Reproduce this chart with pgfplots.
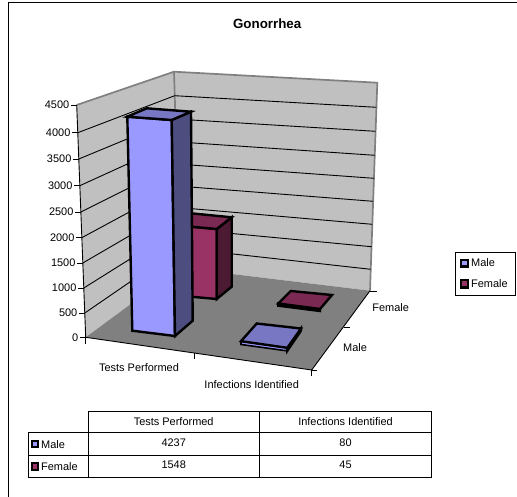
\documentclass[border=0pt]{standalone}
\usepackage{fontspec}
\setmainfont{Liberation Sans}
\usepackage{pgfplots}
\pgfplotsset{compat=1.18}
\definecolor{wall}{HTML}{C0C0C0}
\definecolor{floorgray}{HTML}{808080}
\definecolor{malefront}{HTML}{9999FF}
\definecolor{maletop}{HTML}{7777C4}
\definecolor{maleside}{HTML}{4D4D80}
\definecolor{femfront}{HTML}{993366}
\definecolor{femtop}{HTML}{7A2952}
\definecolor{femside}{HTML}{4D1A33}
\newcommand{\lab}{\fontsize{11}{12}\selectfont}
\begin{document}
\begin{tikzpicture}
\begin{axis}[
  scale only axis, width=517bp, height=497bp,
  xmin=0, xmax=517, ymin=0, ymax=497, y dir=reverse,
  hide axis, clip=false,
  every axis plot/.append style={no markers},
  grid line/.style={black, line width=0.9bp},
  frame line/.style={floorgray, line width=1.7bp},
  bar edge/.style={draw=black, line width=2.4bp, line join=miter},
  table line/.style={black, line width=0.9bp},
]
% outer frame
\addplot[black, line width=1bp] coordinates {(517,2.5) (8,2.5) (8,497)};
% walls and floor
\addplot[fill=wall, draw=none] coordinates {(76.7,105) (174,71.7) (180,267.7) (85.7,337.3)} -- cycle;
\addplot[fill=wall, draw=none] coordinates {(174,71.7) (377.3,82.7) (370,290.7) (180,267.7)} -- cycle;
\addplot[fill=floorgray, draw=none] coordinates {(85.7,337.3) (180,267.7) (370,290.7) (311.7,370)} -- cycle;
\addplot[frame line] coordinates {(76.7,105) (174,71.7) (377.3,82.7) (370,290.7)};
\addplot[frame line] coordinates {(174,71.7) (180,267.7)};
% gridlines, 4000 down to 500
\addplot[grid line] coordinates {(77.8,132.7) (174.7,95.7) (376.4,107.3)};
\addplot[grid line] coordinates {(78.8,159) (175.4,119) (375.6,131.3)};
\addplot[grid line] coordinates {(79.8,185.7) (176.1,141.8) (374.8,155.3)};
\addplot[grid line] coordinates {(80.9,212) (176.8,164) (374,178.3)};
\addplot[grid line] coordinates {(81.8,237.7) (177.5,186) (373.1,201.3)};
\addplot[grid line] coordinates {(82.8,263) (178.1,207.5) (372.3,224.3)};
\addplot[grid line] coordinates {(83.8,288) (178.8,228.5) (371.5,246.7)};
\addplot[grid line] coordinates {(84.8,313) (179.4,248) (370.7,269.3)};
% axes and ticks
\addplot[grid line] coordinates {(76.7,105) (85.7,337.3) (311.7,370) (370,290.7)};
\addplot[grid line] coordinates {(71,105) (76.7,105)};
\addplot[grid line] coordinates {(72,132.7) (77.8,132.7)};
\addplot[grid line] coordinates {(73,159) (78.8,159)};
\addplot[grid line] coordinates {(74,185.7) (79.8,185.7)};
\addplot[grid line] coordinates {(75,212) (80.9,212)};
\addplot[grid line] coordinates {(76,237.7) (81.8,237.7)};
\addplot[grid line] coordinates {(77,263) (82.8,263)};
\addplot[grid line] coordinates {(78,288) (83.8,288)};
\addplot[grid line] coordinates {(79,313) (84.8,313)};
\addplot[grid line] coordinates {(80,337.3) (85.7,337.3)};
\addplot[grid line] coordinates {(85.7,337.3) (85.7,344)};
\addplot[grid line] coordinates {(194.3,353) (194.3,359.3)};
\addplot[grid line] coordinates {(311.7,370) (311.7,376)};
\addplot[grid line] coordinates {(311.7,370) (317,370)};
\addplot[grid line] coordinates {(344,327.3) (350,327.3)};
\addplot[grid line] coordinates {(370,291) (376.7,291)};
% female, infections identified (45)
\addplot[fill=femfront, bar edge] coordinates {(278.3,303.5) (320,309) (320,311) (278.3,305.7)} -- cycle;
\addplot[fill=femtop, bar edge] coordinates {(278.3,303.5) (320,309) (332,295) (290.7,291)} -- cycle;
% male, infections identified (80)
\addplot[fill=malefront, draw=black, line width=1.6bp] coordinates {(241,341.2) (287.3,347.8) (287.3,350.9) (241,344.5)} -- cycle;
\addplot[fill=maleside, bar edge] coordinates {(287.3,348.3) (301,328.5) (301,330.7) (287.3,350.7)} -- cycle;
\addplot[fill=maletop, bar edge] coordinates {(241,341.2) (287.3,347.8) (301,328.5) (256.7,323.5)} -- cycle;
% female, tests performed (1548)
\addplot[fill=femfront, bar edge] coordinates {(172,225) (216.7,229) (216.7,299) (172,295)} -- cycle;
\addplot[fill=femside, bar edge] coordinates {(216.7,229) (231.7,217.3) (231.7,286.7) (216.7,299)} -- cycle;
\addplot[fill=femtop, bar edge] coordinates {(172,225) (216.7,229) (231.7,217.3) (188,213)} -- cycle;
% male, tests performed (4237)
\addplot[fill=malefront, bar edge] coordinates {(127.3,116.7) (171.7,120) (175,336) (132.3,330.7)} -- cycle;
\addplot[fill=maleside, bar edge] coordinates {(171.7,120) (191,111.7) (192.7,320.7) (175,336)} -- cycle;
\addplot[fill=maletop, bar edge] coordinates {(127.3,116.7) (171.7,120) (191,111.7) (146.7,108.3)} -- cycle;
% legend
\addplot[black, line width=0.9bp] coordinates {(455.7,252.7) (515,252.7) (515,295.7) (455.7,295.7)} -- cycle;
\addplot[fill=malefront, draw=black, line width=2.2bp] coordinates {(461,259.7) (468,259.7) (468,266.5) (461,266.5)} -- cycle;
\addplot[fill=femfront, draw=black, line width=2.2bp] coordinates {(461,280.3) (468,280.3) (468,287.5) (461,287.5)} -- cycle;
% data table
\addplot[table line] coordinates {(88,411.7) (431.7,411.7) (431.7,477.3) (28.3,477.3) (28.3,432.3) (431.7,432.3)};
\addplot[table line] coordinates {(28.3,455.3) (431.7,455.3)};
\addplot[table line] coordinates {(88,411.7) (88,477.3)};
\addplot[table line] coordinates {(259.3,411.7) (259.3,477.3)};
\addplot[fill=malefront, draw=black, line width=2.2bp] coordinates {(31.7,441) (38.3,441) (38.3,447.3) (31.7,447.3)} -- cycle;
\addplot[fill=femfront, draw=black, line width=2.2bp] coordinates {(31.7,462.7) (38.3,462.7) (38.3,469.7) (31.7,469.7)} -- cycle;
% text
\node[font=\fontsize{13.4}{15}\selectfont\bfseries] at (axis cs:267.2,23.5) {Gonorrhea};
\foreach \v/\yy in {4500/105,4000/132.7,3500/159,3000/185.7,2500/212,2000/237.7,1500/263,1000/288,500/313,0/337.3}{
  \pgfmathsetmacro{\xx}{\yy*0.0388+65.4}
  \edef\tmp{\noexpand\node[font=\noexpand\lab, anchor=east, inner sep=0pt] at (axis cs:\xx,\yy) {\v};}
  \tmp
}
\node[font=\lab] at (axis cs:139,368) {Tests Performed};
\node[font=\lab] at (axis cs:251.7,384.3) {Infections Identified};
\node[font=\lab] at (axis cs:355,347.3) {Male};
\node[font=\lab] at (axis cs:390.7,307.7) {Female};
\node[font=\lab, anchor=west, inner sep=0pt] at (axis cs:471,263) {Male};
\node[font=\lab, anchor=west, inner sep=0pt] at (axis cs:471,284) {Female};
\node[font=\lab] at (axis cs:173.7,421.7) {Tests Performed};
\node[font=\lab] at (axis cs:345.5,421.7) {Infections Identified};
\node[font=\lab, anchor=west, inner sep=0pt] at (axis cs:41,444.5) {Male};
\node[font=\lab, anchor=west, inner sep=0pt] at (axis cs:41,467) {Female};
\node[font=\lab] at (axis cs:173.7,442.7) {4237};
\node[font=\lab] at (axis cs:345.5,442.7) {80};
\node[font=\lab] at (axis cs:173.7,464.5) {1548};
\node[font=\lab] at (axis cs:345.5,464.5) {45};
\coordinate (tl) at (axis cs:0,0);
\coordinate (br) at (axis cs:517,497);
\end{axis}
\pgfresetboundingbox
\path[use as bounding box] (tl) rectangle (br);
\end{tikzpicture}
\end{document}
